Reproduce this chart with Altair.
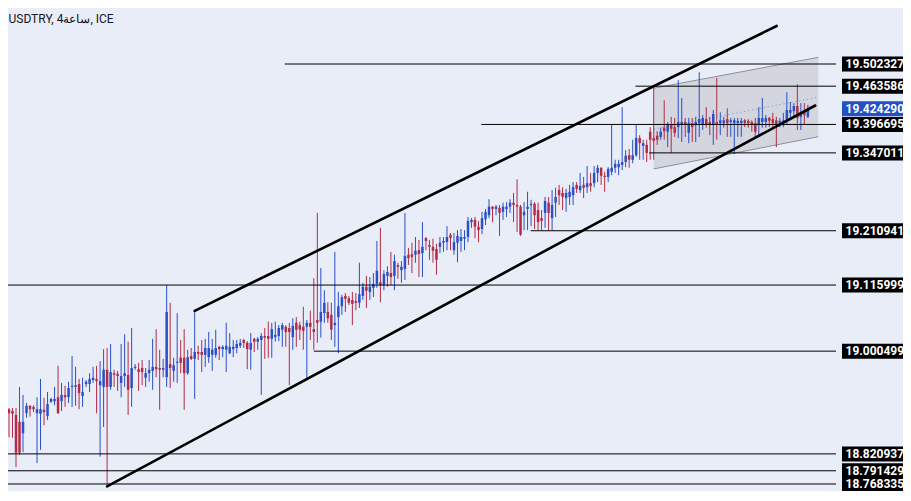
import altair as alt
import pandas as pd

# ---------------- candle data (USDTRY, 4h) ----------------
opens = [18.886, 18.899, 18.896, 18.889, 18.877, 18.857, 18.892, 18.905, 18.903, 18.892,
         18.891, 18.898, 18.887, 18.912, 18.913, 18.920, 18.913, 18.924, 18.920, 18.938,
         18.938, 18.943, 18.922, 18.943, 18.943, 18.950, 18.952, 18.941, 18.938, 18.968,
         18.938, 18.962, 18.961, 18.945, 18.957, 18.959, 18.936, 18.971, 18.969, 18.971,
         18.954, 18.962, 18.966, 18.973, 18.971, 18.968, 18.955, 18.978, 18.966, 18.980,
         18.989, 18.989, 18.962, 18.992, 18.987, 18.999, 18.999, 18.994, 18.990, 18.994,
         18.994, 19.008, 19.004, 19.003, 18.997, 19.004, 19.006, 19.010, 19.020, 19.015,
         19.003, 19.022, 19.017, 19.020, 19.027, 19.027, 19.022, 19.025, 19.027, 19.038,
         19.043, 19.041, 19.025, 19.050, 19.046, 19.043, 19.043, 19.050, 19.039, 19.055,
         19.052, 19.067, 19.069, 19.064, 19.046, 19.060, 19.079, 19.097, 19.093, 19.090,
         19.088, 19.085, 19.097, 19.113, 19.104, 19.111, 19.118, 19.121, 19.116, 19.132,
         19.137, 19.132, 19.151, 19.142, 19.144, 19.169, 19.170, 19.169, 19.177, 19.172,
         19.198, 19.186, 19.183, 19.179, 19.183, 19.190, 19.191, 19.204, 19.177, 19.190,
         19.193, 19.197, 19.200, 19.226, 19.230, 19.218, 19.214, 19.231, 19.238, 19.253,
         19.249, 19.251, 19.244, 19.249, 19.253, 19.260, 19.256, 19.253, 19.238, 19.249,
         19.256, 19.258, 19.247, 19.233, 19.242, 19.260, 19.233, 19.260, 19.282, 19.277,
         19.268, 19.270, 19.273, 19.291, 19.282, 19.291, 19.287, 19.294, 19.294, 19.312,
         19.321, 19.307, 19.305, 19.314, 19.321, 19.322, 19.326, 19.331, 19.343, 19.335,
         19.343, 19.373, 19.359, 19.361, 19.384, 19.373, 19.377, 19.375, 19.391, 19.384,
         19.396, 19.392, 19.392, 19.396, 19.401, 19.382, 19.399, 19.396, 19.399, 19.396,
         19.406, 19.401, 19.396, 19.401, 19.399, 19.399, 19.406, 19.401, 19.399, 19.399,
         19.399, 19.404, 19.403, 19.401, 19.399, 19.396, 19.401, 19.401, 19.408, 19.406,
         19.404, 19.396, 19.399, 19.401, 19.417, 19.420, 19.429, 19.410, 19.422, 19.410]

highs = [18.941, 18.901, 18.901, 18.901, 18.938, 18.924, 18.910, 18.906, 18.906, 18.920,
         18.952, 18.919, 18.929, 18.919, 18.938, 18.975, 18.945, 18.940, 18.947, 18.992,
         18.973, 18.952, 18.954, 18.950, 18.962, 18.973, 18.975, 18.983, 19.004, 19.006,
         19.013, 18.968, 18.966, 19.013, 19.030, 19.017, 19.041, 18.978, 18.980, 18.985,
         18.971, 18.985, 19.022, 19.039, 19.003, 18.987, 19.116, 19.085, 18.989, 19.067,
         19.020, 19.039, 19.003, 19.006, 19.071, 19.010, 19.020, 19.022, 19.034, 19.022,
         19.038, 19.010, 19.011, 19.050, 19.032, 19.020, 19.020, 19.022, 19.022, 19.018,
         19.032, 19.024, 19.025, 19.032, 19.041, 19.052, 19.050, 19.052, 19.046, 19.050,
         19.046, 19.050, 19.058, 19.060, 19.052, 19.078, 19.055, 19.071, 19.128, 19.242,
         19.146, 19.107, 19.086, 19.085, 19.174, 19.104, 19.099, 19.102, 19.097, 19.104,
         19.102, 19.155, 19.120, 19.132, 19.130, 19.137, 19.193, 19.216, 19.142, 19.149,
         19.174, 19.169, 19.155, 19.158, 19.242, 19.181, 19.190, 19.200, 19.195, 19.226,
         19.200, 19.195, 19.197, 19.188, 19.200, 19.200, 19.219, 19.207, 19.207, 19.212,
         19.214, 19.212, 19.235, 19.233, 19.235, 19.228, 19.244, 19.249, 19.266, 19.254,
         19.256, 19.256, 19.260, 19.261, 19.266, 19.277, 19.301, 19.256, 19.261, 19.279,
         19.265, 19.261, 19.260, 19.247, 19.270, 19.270, 19.282, 19.286, 19.291, 19.287,
         19.284, 19.291, 19.296, 19.296, 19.312, 19.305, 19.324, 19.312, 19.324, 19.326,
         19.322, 19.314, 19.322, 19.396, 19.335, 19.335, 19.427, 19.352, 19.354, 19.370,
         19.396, 19.378, 19.370, 19.370, 19.392, 19.462, 19.385, 19.391, 19.439, 19.401,
         19.410, 19.408, 19.474, 19.443, 19.408, 19.408, 19.408, 19.410, 19.488, 19.413,
         19.427, 19.410, 19.422, 19.478, 19.418, 19.410, 19.425, 19.408, 19.408, 19.408,
         19.408, 19.406, 19.406, 19.404, 19.408, 19.427, 19.443, 19.413, 19.410, 19.417,
         19.410, 19.408, 19.417, 19.453, 19.436, 19.434, 19.467, 19.434, 19.434, 19.431]

lows = [18.810, 18.850, 18.849, 18.798, 18.819, 18.824, 18.884, 18.886, 18.894, 18.805,
        18.828, 18.871, 18.880, 18.910, 18.906, 18.891, 18.896, 18.903, 18.910, 18.903,
        18.905, 18.899, 18.903, 18.938, 18.929, 18.945, 18.892, 18.816, 18.868, 18.768,
        18.933, 18.938, 18.931, 18.920, 18.938, 18.889, 18.903, 18.968, 18.931, 18.941,
        18.938, 18.947, 18.933, 18.955, 18.898, 18.955, 18.938, 18.936, 18.947, 18.945,
        18.962, 18.898, 18.959, 18.985, 18.917, 18.985, 18.964, 18.973, 18.980, 18.966,
        18.989, 18.985, 18.990, 18.964, 18.995, 18.990, 18.997, 19.006, 19.006, 18.969,
        18.968, 18.999, 19.003, 18.924, 18.987, 18.989, 18.989, 19.017, 19.018, 19.008,
        19.008, 18.941, 19.003, 19.008, 19.020, 19.003, 18.954, 19.020, 19.003, 19.015,
        19.024, 19.050, 19.050, 19.020, 19.008, 18.997, 19.064, 19.069, 19.081, 19.046,
        19.072, 19.076, 19.090, 19.076, 19.090, 19.095, 19.111, 19.086, 19.107, 19.113,
        19.116, 19.107, 19.127, 19.120, 19.125, 19.151, 19.137, 19.155, 19.130, 19.130,
        19.177, 19.160, 19.155, 19.134, 19.172, 19.174, 19.177, 19.177, 19.169, 19.156,
        19.174, 19.177, 19.191, 19.216, 19.198, 19.191, 19.205, 19.221, 19.233, 19.226,
        19.238, 19.202, 19.230, 19.235, 19.242, 19.226, 19.209, 19.202, 19.212, 19.212,
        19.219, 19.214, 19.212, 19.212, 19.216, 19.212, 19.212, 19.235, 19.256, 19.247,
        19.244, 19.256, 19.256, 19.277, 19.277, 19.268, 19.277, 19.279, 19.287, 19.296,
        19.291, 19.279, 19.296, 19.308, 19.312, 19.308, 19.317, 19.322, 19.321, 19.329,
        19.340, 19.335, 19.335, 19.331, 19.335, 19.335, 19.361, 19.370, 19.370, 19.357,
        19.347, 19.375, 19.373, 19.366, 19.375, 19.364, 19.366, 19.366, 19.375, 19.387,
        19.391, 19.378, 19.361, 19.370, 19.378, 19.391, 19.375, 19.375, 19.345, 19.375,
        19.375, 19.392, 19.391, 19.384, 19.373, 19.378, 19.391, 19.391, 19.392, 19.391,
        19.357, 19.392, 19.392, 19.396, 19.408, 19.408, 19.387, 19.387, 19.396, 19.408]

closes = [18.901, 18.892, 18.891, 18.823, 18.823, 18.877, 18.905, 18.899, 18.899, 18.899,
          18.899, 18.894, 18.908, 18.917, 18.917, 18.892, 18.924, 18.920, 18.936, 18.940,
          18.941, 18.927, 18.929, 18.947, 18.952, 18.954, 18.948, 18.948, 18.968, 18.938,
          18.964, 18.959, 18.957, 18.957, 18.962, 18.933, 18.971, 18.973, 18.964, 18.964,
          18.962, 18.968, 18.973, 18.969, 18.968, 18.971, 19.069, 18.971, 18.976, 18.982,
          18.980, 18.962, 18.990, 18.987, 18.999, 18.996, 18.994, 19.006, 19.006, 19.003,
          19.006, 19.004, 19.008, 19.010, 19.008, 19.008, 19.013, 19.015, 19.015, 19.004,
          19.015, 19.017, 19.022, 19.027, 19.024, 19.022, 19.039, 19.029, 19.041, 19.046,
          19.034, 19.034, 19.045, 19.038, 19.038, 19.036, 19.050, 19.043, 19.034, 19.050,
          19.069, 19.085, 19.058, 19.038, 19.050, 19.079, 19.095, 19.092, 19.085, 19.083,
          19.085, 19.100, 19.113, 19.106, 19.113, 19.118, 19.141, 19.116, 19.135, 19.139,
          19.130, 19.158, 19.148, 19.148, 19.167, 19.163, 19.165, 19.176, 19.170, 19.183,
          19.193, 19.183, 19.176, 19.160, 19.190, 19.193, 19.200, 19.198, 19.191, 19.202,
          19.200, 19.200, 19.228, 19.230, 19.218, 19.212, 19.233, 19.244, 19.253, 19.249,
          19.253, 19.242, 19.253, 19.253, 19.260, 19.256, 19.253, 19.204, 19.244, 19.253,
          19.258, 19.238, 19.226, 19.228, 19.263, 19.242, 19.256, 19.270, 19.273, 19.270,
          19.277, 19.279, 19.287, 19.284, 19.289, 19.286, 19.294, 19.289, 19.312, 19.321,
          19.307, 19.305, 19.319, 19.321, 19.328, 19.328, 19.331, 19.342, 19.335, 19.343,
          19.373, 19.364, 19.364, 19.347, 19.370, 19.368, 19.370, 19.384, 19.385, 19.396,
          19.389, 19.382, 19.401, 19.401, 19.396, 19.399, 19.392, 19.401, 19.406, 19.408,
          19.396, 19.396, 19.415, 19.398, 19.404, 19.404, 19.399, 19.404, 19.404, 19.403,
          19.403, 19.399, 19.399, 19.396, 19.384, 19.408, 19.408, 19.408, 19.403, 19.399,
          19.396, 19.403, 19.404, 19.422, 19.422, 19.429, 19.408, 19.417, 19.413, 19.42429]

# ---------------- drawings ----------------
current_price = 19.424290
level_prices = [19.502327, 19.463586, 19.396695, 19.347011, 19.210941,
                19.115999, 19.000499, 18.820937, 18.791429, 18.768335]
level_starts = [79.7, 179.8, 135.8, 183.7, 149.9, None, 88.0, None, None, None]

# rising channel (bar index, price)
upper_line = [(54, 19.071), (220.1, 19.5688)]
lower_line = [(29, 18.764), (231.1, 19.4298)]
# grey parallel channel: left/right index, top, bottom, middle
pc_x = [185.0, 232.0]
pc_top = [19.460, 19.514]
pc_bottom = [19.319, 19.3753]
pc_mid = [19.3885, 19.4445]

title_text = "USDTRY, 4ساعة, ICE"
tick_values = [18.8, 18.9, 19.0, 19.1, 19.2, 19.3, 19.4, 19.5, 19.6]

# ---------------- styling ----------------
BG = "#e9edf8"
BLUE = "#2a4fc6"
RED = "#b42b45"
FONT = "Roboto"
X_MIN, X_MAX = -0.14, 237.03
Y_MIN, Y_MAX = 18.7386, 19.6142
W, H = 841, 501

xs = alt.Scale(domain=[X_MIN, X_MAX], nice=False, zero=False)
ys = alt.Scale(domain=[Y_MIN, Y_MAX], nice=False, zero=False)

candles = pd.DataFrame({"i": list(range(len(opens))), "open": opens, "high": highs,
                        "low": lows, "close": closes})
candles["dir"] = ["up" if c >= o else "down" for o, c in zip(opens, closes)]
col = alt.Color("dir:N", scale=alt.Scale(domain=["up", "down"], range=[BLUE, RED]), legend=None)

yaxis = alt.Axis(orient="right", values=tick_values, format=".6f", ticks=False, grid=False,
                 labelFont=FONT, labelFontSize=12, labelColor="#4d4d4d", labelPadding=5,
                 labelAlign="left", labelBaseline="middle", domainColor="#c9ccd6",
                 title=None)

wicks = alt.Chart(candles).mark_rule(strokeWidth=1).encode(
    x=alt.X("i:Q", scale=xs, axis=None),
    y=alt.Y("low:Q", scale=ys, axis=yaxis),
    y2="high:Q",
    color=col,
)
bodies = alt.Chart(candles).mark_bar(size=2.5).encode(
    x=alt.X("i:Q", scale=xs, axis=None),
    y=alt.Y("open:Q", scale=ys, axis=None),
    y2="close:Q",
    color=col,
)

# grey parallel channel
pc_df = pd.DataFrame({"x": pc_x, "top": pc_top, "bottom": pc_bottom, "mid": pc_mid})
pc_fill = alt.Chart(pc_df).mark_area(color="#d3d6df", opacity=1).encode(
    x=alt.X("x:Q", scale=xs, axis=None),
    y=alt.Y("top:Q", scale=ys, axis=None),
    y2="bottom:Q",
)
pc_top_line = alt.Chart(pc_df).mark_line(color="#8d9099", strokeWidth=1).encode(
    x=alt.X("x:Q", scale=xs, axis=None), y=alt.Y("top:Q", scale=ys, axis=None))
pc_bot_line = alt.Chart(pc_df).mark_line(color="#8d9099", strokeWidth=1).encode(
    x=alt.X("x:Q", scale=xs, axis=None), y=alt.Y("bottom:Q", scale=ys, axis=None))
pc_mid_line = alt.Chart(pc_df).mark_line(color="#8fa0d8", strokeWidth=1,
                                         strokeDash=[1.5, 2.5]).encode(
    x=alt.X("x:Q", scale=xs, axis=None), y=alt.Y("mid:Q", scale=ys, axis=None))

# horizontal levels
lv_df = pd.DataFrame({
    "p": level_prices,
    "x1": [X_MIN if s is None else s for s in level_starts],
    "x2": [X_MAX] * len(level_prices),
    "txt": [f"{v:.6f}" for v in level_prices],
})
levels = alt.Chart(lv_df).mark_rule(color="#000000", strokeWidth=1).encode(
    x=alt.X("x1:Q", scale=xs, axis=None), x2="x2:Q",
    y=alt.Y("p:Q", scale=ys, axis=None),
)

# rising channel lines
ch_df = pd.DataFrame({
    "x1": [upper_line[0][0], lower_line[0][0]],
    "y1": [upper_line[0][1], lower_line[0][1]],
    "x2": [upper_line[1][0], lower_line[1][0]],
    "y2": [upper_line[1][1], lower_line[1][1]],
})
channel = alt.Chart(ch_df).mark_rule(color="#000000", strokeWidth=2.6, strokeCap="round").encode(
    x=alt.X("x1:Q", scale=xs, axis=None), x2="x2:Q",
    y=alt.Y("y1:Q", scale=ys, axis=None), y2="y2:Q",
)

# price labels on the axis
BOX_X = 872.5
TXT_X = 845.5
cur_df = pd.DataFrame({"p": [current_price], "txt": [f"{current_price:.6f}"]})
lv_boxes = alt.Chart(lv_df).mark_tick(orient="horizontal", size=61, thickness=15, opacity=1,
                                      color="#000000").encode(
    x=alt.value(BOX_X), y=alt.Y("p:Q", scale=ys, axis=None))
cur_box = alt.Chart(cur_df).mark_tick(orient="horizontal", size=61, thickness=15, opacity=1,
                                      color="#2350c2").encode(
    x=alt.value(BOX_X), y=alt.Y("p:Q", scale=ys, axis=None))
txt_kw = dict(font=FONT, fontSize=12, fontWeight="bold", color="#ffffff",
              align="left", baseline="middle")
lv_text = alt.Chart(lv_df).mark_text(**txt_kw).encode(
    x=alt.value(TXT_X), y=alt.Y("p:Q", scale=ys, axis=None), text="txt:N")
cur_text = alt.Chart(cur_df).mark_text(**txt_kw).encode(
    x=alt.value(TXT_X), y=alt.Y("p:Q", scale=ys, axis=None), text="txt:N")

title = alt.Chart(pd.DataFrame({"t": [title_text]})).mark_text(
    font=FONT, fontSize=12, color="#131722", align="left", baseline="alphabetic"
).encode(x=alt.value(8.5), y=alt.value(23), text="t:N")

chart = alt.layer(
    pc_fill, pc_top_line, pc_bot_line, pc_mid_line,
    wicks, bodies, levels, channel, lv_boxes, cur_box, lv_text, cur_text, title,
).properties(
    width=W, height=H,
    padding={"left": -8, "top": -8, "right": 62, "bottom": -10},
    autosize=alt.AutoSizeParams(type="none"),
).configure(background=BG).configure_view(stroke=None)

chart.save("out.html", embed_options={"renderer": "svg", "actions": False})
